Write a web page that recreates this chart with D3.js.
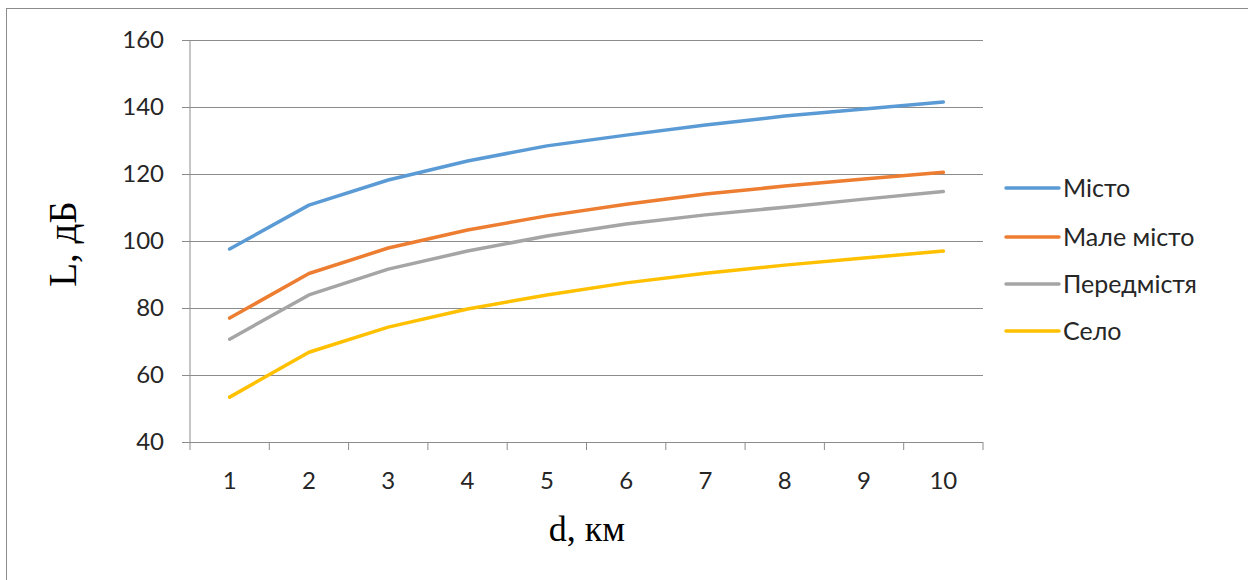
<!DOCTYPE html>
<html>
<head>
<meta charset="utf-8">
<script src="https://cdn.jsdelivr.net/npm/d3@7"></script>
<style>
  body { margin: 0; background: #fff; }
  .tick text { font-family: Lato, "Open Sans", sans-serif; font-size: 24px; fill: #262626; }
  .axis-title { font-family: "Liberation Serif", "Times New Roman", serif; fill: #000; }
  .legend text { font-family: Lato, "Open Sans", sans-serif; font-size: 25px; fill: #262626; }
</style>
</head>
<body>
<div id="chart"></div>
<script>
var distances = [1, 2, 3, 4, 5, 6, 7, 8, 9, 10];

var misto = [97.6, 110.7, 118.2, 123.9, 128.4, 131.6, 134.6, 137.3, 139.4, 141.5];
var maleMisto = [77.0, 90.3, 97.9, 103.3, 107.5, 111.0, 114.0, 116.4, 118.5, 120.5];
var peredmistia = [70.7, 83.9, 91.6, 97.0, 101.5, 105.1, 107.8, 110.1, 112.5, 114.8];
var selo = [53.4, 66.8, 74.3, 79.7, 83.9, 87.5, 90.4, 92.8, 94.9, 97.0];

var seriesNames = ["Місто", "Мале місто", "Передмістя", "Село"];
var seriesColors = ["#5B9BD5", "#ED7D31", "#A5A5A5", "#FFC000"];
var seriesValues = [misto, maleMisto, peredmistia, selo];

var yTicks = [40, 60, 80, 100, 120, 140, 160];

var width = 1248,
  height = 580;
var margins = { top: 40, right: 265, bottom: 138, left: 190 };

var svg = d3
  .select("#chart")
  .append("svg")
  .attr("width", width)
  .attr("height", height);

// outer frame
svg
  .append("rect")
  .attr("x", 6.5)
  .attr("y", 8.5)
  .attr("width", width)
  .attr("height", height)
  .attr("fill", "none")
  .attr("stroke", "#8c8c8c")
  .attr("stroke-width", 1);

var x = d3
  .scaleBand()
  .domain(distances)
  .range([margins.left, width - margins.right]);

var y = d3
  .scaleLinear()
  .domain([40, 160])
  .range([height - margins.bottom, margins.top]);

// y axis with gridlines
var y_axis = d3
  .axisLeft(y)
  .tickValues(yTicks)
  .tickSize(-(width - margins.left - margins.right))
  .tickPadding(26);

var gy = svg
  .append("g")
  .attr("transform", "translate(" + margins.left + ",0)")
  .call(y_axis);
gy.select(".domain").remove();
gy.selectAll(".tick line")
  .attr("stroke", "#8c8c8c")
  .attr("x1", -8);

svg
  .append("line")
  .attr("x1", margins.left)
  .attr("x2", margins.left)
  .attr("y1", y(160))
  .attr("y2", y(40))
  .attr("stroke", "#8c8c8c");

// x axis
var x_axis = d3.axisBottom(x).tickSize(0).tickPadding(30);
var gx = svg
  .append("g")
  .attr("transform", "translate(0," + y(40) + ")")
  .call(x_axis);
gx.select(".domain").remove();

var bounds = distances.map((d) => x(d)).concat([x.range()[1]]);
svg
  .append("g")
  .selectAll("line")
  .data(bounds)
  .enter()
  .append("line")
  .attr("x1", (d) => d)
  .attr("x2", (d) => d)
  .attr("y1", y(40))
  .attr("y2", y(40) + 8)
  .attr("stroke", "#8c8c8c");

// axis titles
svg
  .append("text")
  .attr("class", "axis-title")
  .attr("font-size", 39)
  .attr("text-anchor", "middle")
  .attr("transform", "translate(76,244) rotate(-90)")
  .text("L, дБ");

svg
  .append("text")
  .attr("class", "axis-title")
  .attr("font-size", 36)
  .attr("text-anchor", "middle")
  .attr("x", 587)
  .attr("y", 541)
  .text("d, км");

// lines
var line = d3
  .line()
  .x((d, i) => x(distances[i]) + x.bandwidth() / 2)
  .y((d) => y(d));

svg
  .append("g")
  .selectAll("path")
  .data(seriesValues)
  .enter()
  .append("path")
  .attr("d", line)
  .attr("fill", "none")
  .attr("stroke", (d, i) => seriesColors[i])
  .attr("stroke-width", 3.5)
  .attr("stroke-linejoin", "round")
  .attr("stroke-linecap", "round");

// legend
var legendY = [188, 237, 284, 331];
var legend = svg
  .append("g")
  .attr("class", "legend")
  .selectAll("g")
  .data(seriesNames)
  .enter()
  .append("g")
  .attr("transform", (d, i) => "translate(1006," + legendY[i] + ")");

legend
  .append("line")
  .attr("x1", 0)
  .attr("x2", 53)
  .attr("stroke", (d, i) => seriesColors[i])
  .attr("stroke-width", 3.5)
  .attr("stroke-linecap", "round");

legend
  .append("text")
  .attr("x", 57)
  .attr("dy", "0.35em")
  .text((d) => d);
</script>
</body>
</html>
